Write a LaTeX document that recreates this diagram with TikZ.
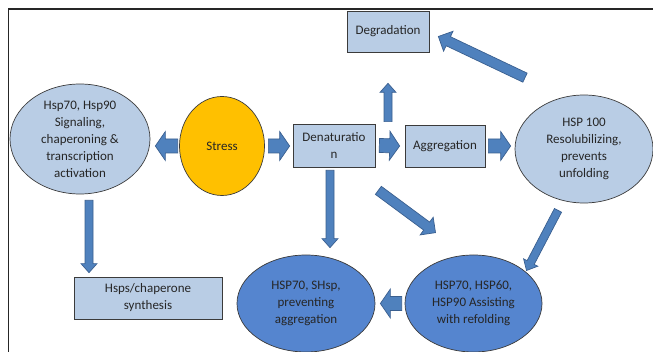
\documentclass[tikz,border=0pt]{standalone}
\usepackage{fontspec}
\setmainfont{Carlito}
\usetikzlibrary{shapes.geometric,calc}

\definecolor{paleblue}{HTML}{B9CDE5}
\definecolor{deepblue}{HTML}{5585CF}
\definecolor{arrowblue}{HTML}{4F81BD}
\definecolor{arrowedge}{HTML}{3A5F8F}
\definecolor{stressgold}{HTML}{FFC000}
\definecolor{inkline}{HTML}{3B3B3B}

\tikzset{
  lbl/.style={font=\fontsize{13}{17}\selectfont, text=black!85, align=center},
  ell/.style={lbl, ellipse, draw=inkline, line width=0.7pt, inner sep=-30pt},
  box/.style={lbl, rectangle, draw=inkline, line width=0.7pt, fill=paleblue, inner sep=0pt},
  blk/.style n args={3}{to path={
      ($(\tikztotarget)!#3!(\tikztostart)$) coordinate (hb)
      ($(\tikztostart)!#1!90:(\tikztotarget)$) -- ($(hb)!#1!-90:(\tikztostart)$)
      -- ($(hb)!#2!-90:(\tikztostart)$) -- (\tikztotarget)
      -- ($(hb)!#2!90:(\tikztostart)$) -- ($(hb)!#1!90:(\tikztostart)$)
      -- ($(\tikztostart)!#1!-90:(\tikztotarget)$) -- cycle},
    fill=arrowblue, draw=arrowedge, line width=0.7pt},
  wide/.style={blk={7pt}{14.5pt}{10pt}},
  mid/.style={blk={5pt}{11pt}{11pt}},
  slim/.style={blk={4pt}{8pt}{9pt}},
}

\begin{document}
\begin{tikzpicture}[x=1pt,y=-1pt]
  \useasboundingbox (0,0) rectangle (653,352);

  % frame (top and left edge only)
  \draw[line width=1.5pt, black!85] (8.5,352) -- (8.5,9) -- (653,9);

  % ellipses
  \node[ell, fill=paleblue, minimum width=140pt, minimum height=110pt] (sig) at (80,139)
    {Hsp70, Hsp90\\Signaling,\\chaperoning \&\\transcription\\activation};
  \node[ell, fill=stressgold, minimum width=85pt, minimum height=99pt] (stress) at (222,146) {Stress};
  \node[ell, fill=paleblue, minimum width=138pt, minimum height=108pt] (hsp100) at (584,149)
    {HSP 100\\Resolubilizing,\\prevents\\unfolding};
  \node[ell, fill=deepblue, minimum width=138pt, minimum height=97pt] (shsp) at (306,303.5)
    {HSP70, SHsp,\\preventing\\aggregation};
  \node[ell, fill=deepblue, minimum width=137pt, minimum height=97pt] (refold) at (473.5,303.5)
    {HSP70, HSP60,\\HSP90 Assisting\\with refolding};

  % boxes
  \node[box, minimum width=82pt, minimum height=43pt] (den) at (334,145.5) {Denaturatio\\n};
  \node[box, minimum width=80pt, minimum height=42pt] (agg) at (445,146) {Aggregation};
  \node[box, minimum width=82pt, minimum height=41pt] (deg) at (388,31.5) {Degradation};
  \node[box, minimum width=148pt, minimum height=42pt] (chap) at (148,298) {Hsps/chaperone\\synthesis};

  % block arrows
  \draw[wide] ([xshift=-1.5pt]stress.west) to ([xshift=5pt]sig.east |- stress.west);
  \draw[wide] ([xshift=3.5pt]stress.east) to ([xshift=-3pt]den.west |- stress.east);
  \draw[wide] ([xshift=4pt]den.east) to ([xshift=-5pt]agg.west);
  \draw[wide] ([xshift=3pt]agg.east) to ([xshift=-4pt]hsp100.west |- agg.east);
  \draw[wide] ([xshift=-3pt]refold.west) to ([xshift=5pt]shsp.east |- refold.west);
  \draw[slim] ([yshift=2pt]deg.south |- den.north) to ([yshift=-31pt]deg.south);
  \draw[mid] ([xshift=-59pt,yshift=17pt]hsp100.north) to ([xshift=9pt,yshift=-5pt]deg.east);
  \draw[slim] ([xshift=-4pt,yshift=-3pt]den.south) to ([xshift=-4pt,yshift=7pt]den.south |- shsp.north);
  \draw[mid] ([xshift=3pt,yshift=-23pt]den.south east) to ([xshift=-38pt,yshift=22pt]refold.north);
  \draw[slim] ([xshift=-26pt,yshift=-7pt]hsp100.south) to ([xshift=53pt,yshift=33pt]refold.center);
  \draw[slim] ([xshift=9pt,yshift=-6pt]sig.south) to ([xshift=9pt,yshift=4pt]sig.south |- chap.north);
\end{tikzpicture}
\end{document}
